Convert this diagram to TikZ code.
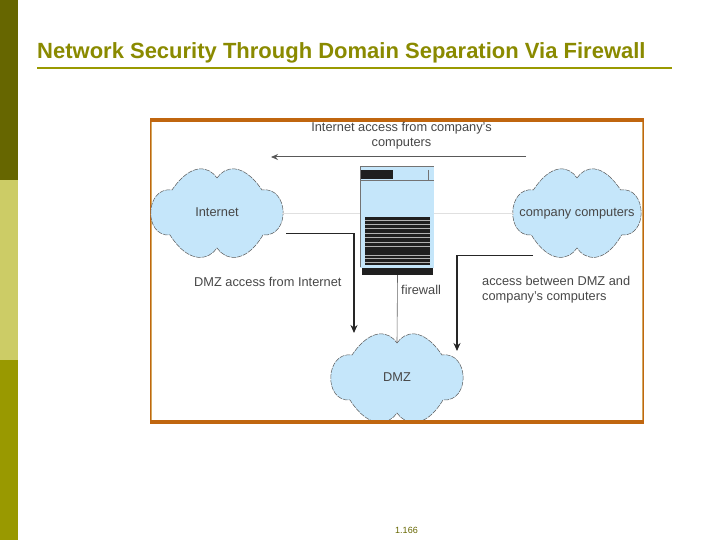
\documentclass[tikz,border=0pt]{standalone}
\usepackage{fontspec}
\setmainfont{Liberation Sans}
\usetikzlibrary{arrows.meta}
\definecolor{oliveA}{HTML}{666600}
\definecolor{oliveB}{HTML}{CCCC66}
\definecolor{oliveC}{HTML}{999900}
\definecolor{frameorange}{HTML}{C0660F}
\definecolor{frametan}{HTML}{D2A860}
\definecolor{skyfill}{HTML}{C5E6FA}
\tikzset{
  caption/.style={text=black!72,font=\fontsize{12.8}{14.5}\selectfont,inner sep=0pt},
  netline/.style={draw=black!85,line width=1.4pt,-{Stealth[length=8pt,width=7pt]}},
  block/.style={fill=black!88,inner sep=0pt,minimum width=0pt},
  netcloud/.pic={
    \path[fill=skyfill,draw=black!65,line width=0.5pt,dash pattern=on 5pt off 1pt]
      (0,-35) .. controls (8,-47) and (26,-51) .. (45,-23)
      .. controls (72,-27) and (74,24) .. (46,22)
      .. controls (28,52) and (8,47) .. (0,35)
      .. controls (-8,47) and (-28,52) .. (-47,22)
      .. controls (-74,24) and (-72,-27) .. (-45,-23)
      .. controls (-26,-51) and (-8,-47) .. (0,-35) -- cycle;
    \coordinate (-notch) at (0,-35);
    \coordinate (-east) at (65,0);
    \coordinate (-west) at (-65,0);
    \node[caption,text height=9pt,text depth=2.5pt] (-label) at (0,0) {#1};
  }
}
\begin{document}
\begin{tikzpicture}[x=1pt,y=-1pt]
  \useasboundingbox (0,0) rectangle (720,540);

  % Side bar
  \fill[oliveA] (0,0) rectangle (18,180);
  \fill[oliveB] (0,180) rectangle (18,360);
  \fill[oliveC] (0,360) rectangle (18,540);

  % Title
  \node[anchor=base west,inner sep=0pt,text=oliveC!90!black,font=\fontsize{22}{26}\selectfont\bfseries] (title) at (37,59) {Network Security Through Domain Separation Via Firewall};
  \coordinate (ruleL) at (37,68);
  \coordinate (ruleR) at (672,68);
  \draw[oliveC,line width=1.2pt] (ruleL) -- (ruleR);

  % Frame
  \draw[frametan,line width=1pt] (151,119) rectangle (642,422);
  \draw[frameorange,line width=0.5pt] (150,118) rectangle (643,423);
  \fill[frameorange] (150,118.5) rectangle (643,122);

  % Clouds
  \pic (internet) at (217,213) {netcloud={Internet}};
  \pic[xscale=0.97] (company) at (577,213) {netcloud={company computers}};
  \pic (dmz) at (397,378) {netcloud={DMZ}};
  \fill[frameorange] (150,420) rectangle (643,423.5);

  % Firewall
  \node[fill=skyfill,inner sep=0pt,minimum width=74pt,minimum height=101pt] (firewall) at (397,217) {};
  \draw[black!55,line width=1pt] (360,167) -- (434,167);
  \draw[black!55,line width=0.7pt] (360,180) -- (434,180);
  \draw[black!55,line width=0.6pt] (360,167) -- (360,267);
  \draw[black!55,line width=0.7pt] (428,170) -- (428,180);
  \fill[black!88] (361,170) rectangle (393,179);
  \fill[black!88] (365,217) rectangle (429.5,265);
  \foreach \ya in {220,224,228,233,237,242,246,255,258,262}
    \draw[white!70!black,line width=0.5pt] (365,\ya) -- (429.5,\ya);
  \node[block,minimum width=71pt,minimum height=7pt] (fwbase) at (397.5,271.5) {};

  % Links
  \draw[black!12,line width=0.5pt] (internet-east) -- (internet-east -| firewall.west);
  \draw[black!12,line width=0.5pt] (company-west -| firewall.east) -- (company-west);
  \draw[black!60,line width=0.6pt] (fwbase.south) -- (dmz-notch);

  % Arrows
  \coordinate (outA) at (526,157);
  \coordinate (outB) at (271,157);
  \coordinate (dmzA) at (286,233.5);
  \coordinate (dmzB) at (354,333);
  \coordinate (dmzC) at (533,255.5);
  \coordinate (dmzD) at (457,351);
  \draw[black!65,line width=1pt,-{Stealth[length=7pt,width=6pt]}] (outA) -- (outB);
  \draw[netline] (dmzA) -| (dmzB);
  \draw[netline] (dmzC) -| (dmzD);

  % Labels
  \node[caption,align=center] (labelout) at (401.5,135.5) {Internet access from company's\\computers};
  \node[caption,anchor=west] (labeldmz) at (194,282) {DMZ access from Internet};
  \node[caption,anchor=west] (labelfw) at (401,290) {firewall};
  \node[caption,align=left,anchor=west] (labelaccess) at (482,289.5) {access between DMZ and\\company's computers};

  % Page number
  \node[inner sep=0pt,text=oliveA,font=\fontsize{9}{10}\selectfont] (page) at (406.5,530) {1.166};
\end{tikzpicture}
\end{document}
